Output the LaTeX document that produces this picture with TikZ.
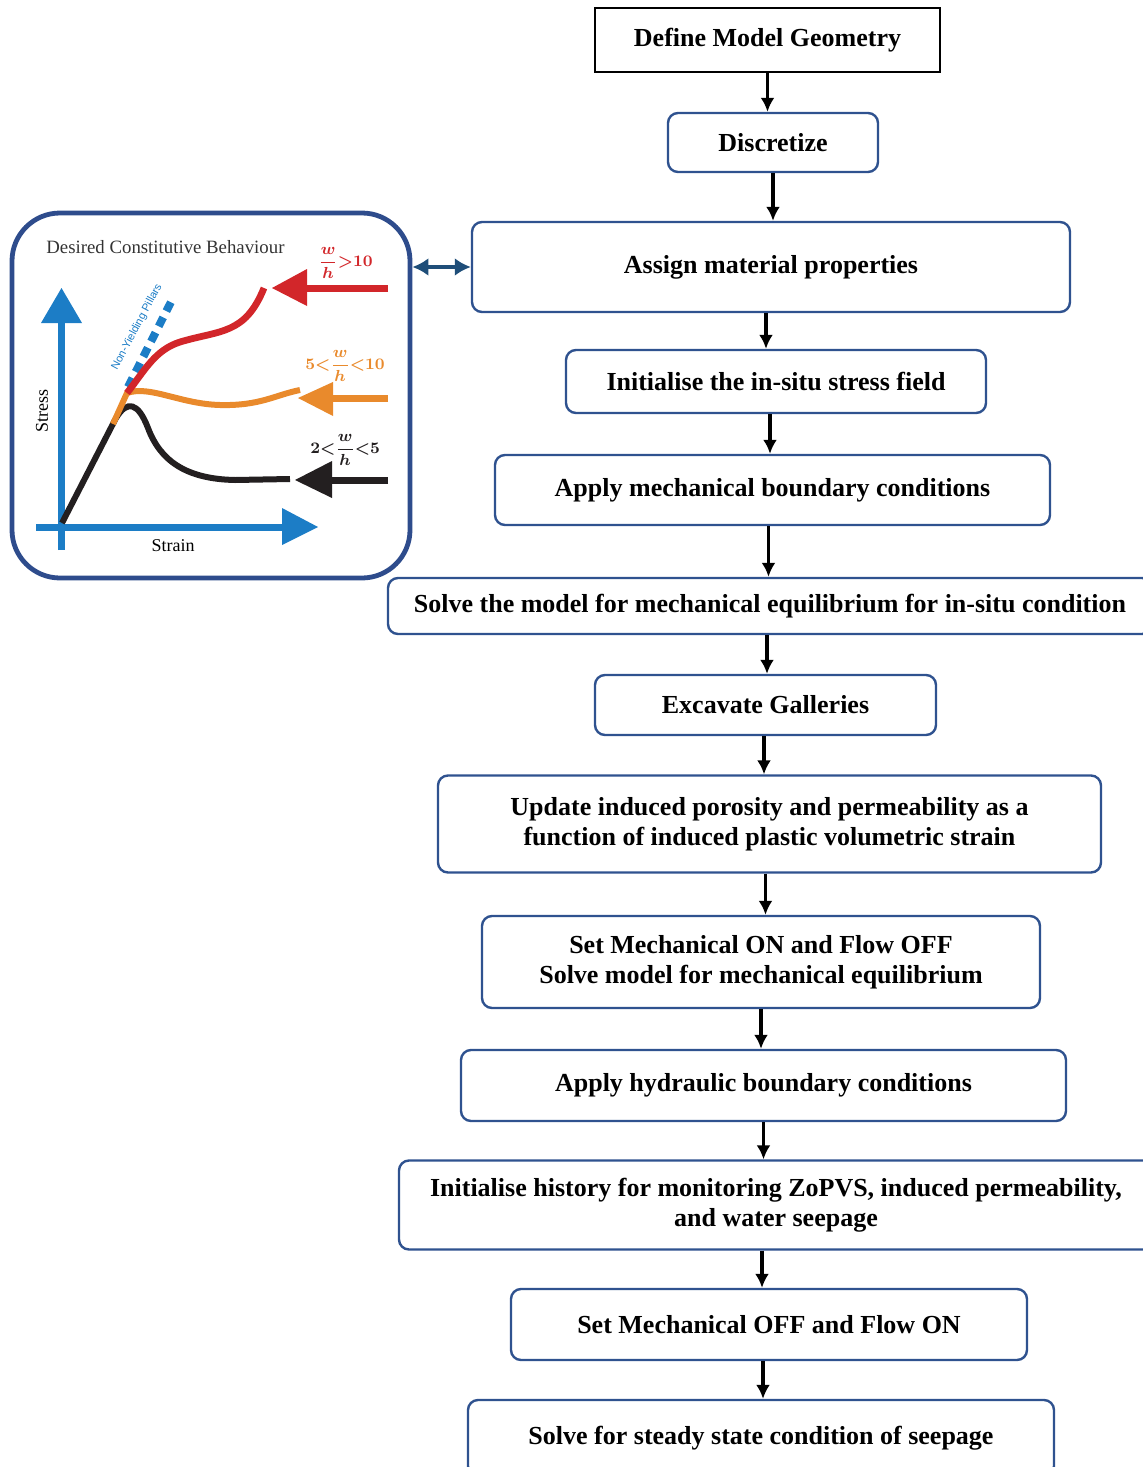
\documentclass[tikz,border=0pt]{standalone}
\usepackage{fontspec}
\setmainfont{Liberation Serif}
\newfontfamily\lsans{Liberation Sans}
\usetikzlibrary{arrows.meta}
\definecolor{bxblue}{HTML}{2F528F}
\definecolor{inblue}{HTML}{2E4C8C}
\definecolor{axblue}{HTML}{1C7DC6}
\definecolor{crvred}{HTML}{D2262A}
\definecolor{crvorange}{HTML}{E98A2C}
\definecolor{crvblack}{HTML}{231F20}
\definecolor{dblblue}{HTML}{1F4E79}
\begin{document}
\begin{tikzpicture}[
          x=0.5pt,
          y=-0.5pt,
          bx/.style={draw=bxblue, line width=1.2pt, rounded corners=5pt, fill=white, align=center,
                     inner sep=0pt, font=\fontsize{13}{15}\selectfont\bfseries},
          fl/.style={line width=1.6pt, -{Latex[length=7pt,width=7pt]}},
          crv/.style={line width=3pt},
          lbl/.style={font=\fontsize{8.5}{9}\selectfont\bfseries\boldmath, inner sep=0pt},
        ]
      \useasboundingbox (0,0) rectangle (1143,1467);
      \clip (0,0) rectangle (1143,1467);
      % flow chart
      \node[bx, draw=black, rounded corners=0pt, minimum width=172.5pt, minimum height=32pt] (geom) at (767.5,40) {Define Model Geometry};
      \node[bx, minimum width=105pt, minimum height=29.5pt] (disc) at (773,142.5) {Discretize};
      \node[bx, minimum width=299pt, minimum height=45pt] (assign) at (771,267) {Assign material properties};
      \node[bx, minimum width=210pt, minimum height=31.5pt] (insitu) at (776,381.5) {Initialise the in-situ stress field};
      \node[bx, minimum width=277.5pt, minimum height=35pt] (mechbc) at (772.5,490) {Apply mechanical boundary conditions};
      \node[bx, minimum width=382pt, minimum height=28pt] (solve) at (770,606) {Solve the model for mechanical equilibrium for in-situ condition};
      \node[bx, minimum width=170.5pt, minimum height=30pt] (excav) at (765.5,705) {Excavate Galleries};
      \node[bx, minimum width=331.5pt, minimum height=48.5pt] (update) at (769.5,824) {Update induced porosity and permeability as a\\function of induced plastic volumetric strain};
      \node[bx, minimum width=279pt, minimum height=46pt] (mechon) at (761,962) {Set Mechanical ON and Flow OFF\\Solve model for mechanical equilibrium};
      \node[bx, minimum width=302.5pt, minimum height=35.5pt] (hydbc) at (763.5,1085.5) {Apply hydraulic boundary conditions};
      \node[bx, minimum width=377pt, minimum height=44.5pt] (hist) at (776,1205) {Initialise history for monitoring ZoPVS, induced permeability,\\and water seepage};
      \node[bx, minimum width=258pt, minimum height=35.5pt] (flowon) at (769,1324.5) {Set Mechanical OFF and Flow ON};
      \node[bx, minimum width=293pt, minimum height=38pt] (steady) at (761,1438) {Solve for steady state condition of seepage};
      \draw[fl] (geom.south) -- (geom.south |- disc.north);
      \draw[fl] (disc.south) -- (disc.south |- assign.north);
      \draw[fl] ([xshift=-2.5pt]assign.south) -- ([xshift=-2.5pt]assign.south |- insitu.north);
      \draw[fl] ([xshift=-3pt]insitu.south) -- ([xshift=-3pt]insitu.south |- mechbc.north);
      \draw[fl] ([xshift=-2pt]mechbc.south) -- ([xshift=-2pt]mechbc.south |- solve.north);
      \draw[fl] ([xshift=-1.5pt]solve.south) -- ([xshift=-1.5pt]solve.south |- excav.north);
      \draw[fl] ([xshift=-0.75pt]excav.south) -- ([xshift=-0.75pt]excav.south |- update.north);
      \draw[fl] ([xshift=-2pt]update.south) -- ([xshift=-2pt]update.south |- mechon.north);
      \draw[fl] (mechon.south) -- (mechon.south |- hydbc.north);
      \draw[fl] (hydbc.south) -- (hydbc.south |- hist.north);
      \draw[fl] ([xshift=-7pt]hist.south) -- ([xshift=-7pt]hist.south |- flowon.north);
      \draw[fl] ([xshift=-3pt]flowon.south) -- ([xshift=-3pt]flowon.south |- steady.north);
      % inset with constitutive behaviour
      \node[draw=inblue, line width=2.4pt, rounded corners=24pt, minimum width=199pt, minimum height=182.5pt] (inset) at (211,395.5) {};
      \draw[dblblue, line width=2pt, {Latex[length=8pt,width=9pt]}-{Latex[length=8pt,width=9pt]}] (inset.east |- assign) -- (assign.west);
      \node[font=\fontsize{9.4}{10}\selectfont, text=black!80, anchor=west, inner sep=0pt] (title) at (46,247) {Desired Constitutive Behaviour};
      % axes
      \draw[axblue, line width=3.5pt] (61.5,550) -- (61.5,318);
      \fill[axblue] (41,323) -- (61.5,288) -- (82,323) -- cycle;
      \draw[axblue, line width=3.5pt] (36,527) -- (286,527);
      \fill[axblue] (282,508) -- (318,527) -- (282,545) -- cycle;
      \node[rotate=90, font=\fontsize{9}{10}\selectfont, inner sep=0pt] (stress) at (42,411) {Stress};
      \node[font=\fontsize{9}{10}\selectfont, inner sep=0pt] (strain) at (173,546) {Strain};
      % curves
      \draw[axblue, line width=4pt, dash pattern=on 5pt off 3.5pt] (128,387) -- (172,300);
      \draw[crv, crvblack] (62,523) -- (116,418) .. controls (127,400) and (138,402) .. (148,428) .. controls (160,460) and (185,479) .. (235,480) -- (290,479);
      \draw[crv, crvorange] (113,424) -- (127,393) .. controls (150,385) and (180,404) .. (220,405) .. controls (260,406) and (275,395) .. (300,390);
      \draw[crv, crvred, line width=3.4pt] (127,393) .. controls (145,370) and (155,350) .. (180,342) .. controls (220,330) and (245,335) .. (264,288);
      \node[rotate=62, text=axblue, font=\lsans\fontsize{5.5}{6}\selectfont, inner sep=0pt] (nyp) at (137,327) {Non-Yielding Pillars};
      % load arrows
      \draw[crvred, line width=3.5pt] (388,288) -- (305,288);
      \fill[crvred] (307,269) -- (272,288) -- (307,306) -- cycle;
      \draw[crvorange, line width=3.5pt] (388,398) -- (331,398);
      \fill[crvorange] (333,382) -- (298,398) -- (333,416) -- cycle;
      \draw[crvblack, line width=3.5pt] (388,480) -- (330,480);
      \fill[crvblack] (332,461) -- (295,480) -- (332,498) -- cycle;
      \node[lbl, text=crvred, anchor=west] (ratioA) at (318,263) {$\displaystyle\frac{w}{h}\mathord{>}\mathbf{10}$};
      \node[lbl, text=crvorange, anchor=west] (ratioB) at (305,366) {$\mathbf{5}\mathord{<}\displaystyle\frac{w}{h}\mathord{<}\mathbf{10}$};
      \node[lbl, text=crvblack, anchor=west] (ratioC) at (310,450) {$\mathbf{2}\mathord{<}\displaystyle\frac{w}{h}\mathord{<}\mathbf{5}$};
    \end{tikzpicture}
\end{document}
